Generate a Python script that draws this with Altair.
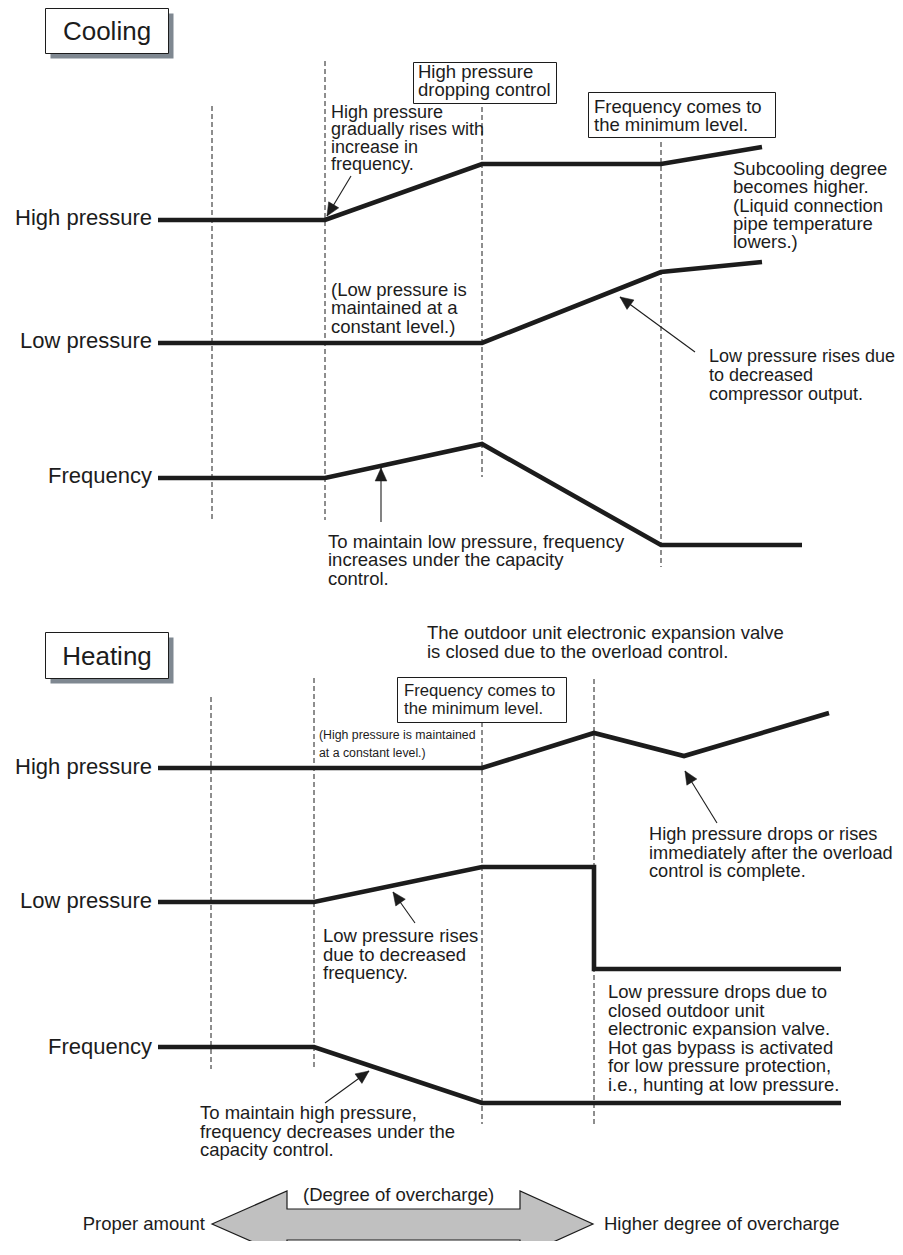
import math
import altair as alt
import pandas as pd

# ---------------- canvas: data units are page pixels ----------------
MARGIN = 8
W, H = 887, 1233
INK = "#1c1c1c"
SHADOW = "#7f8891"
BODY = "Liberation Sans, Arial, Helvetica, sans-serif"

# ---------------- thick state curves ----------------
cool_hp_x = [158, 325, 482, 661, 762]
cool_hp_y = [220, 220, 164, 164, 147]
cool_lp_x = [158, 482, 661, 762]
cool_lp_y = [343, 343, 272, 262]
cool_fr_x = [158, 325, 482, 661, 802]
cool_fr_y = [478, 478, 444, 545, 545]
heat_hp_x = [158, 482, 594, 684, 829]
heat_hp_y = [768, 768, 733, 756, 713]
heat_lp_x = [158, 314, 482, 594, 594, 841]
heat_lp_y = [902, 902, 867, 867, 969, 969]
heat_fr_x = [158, 314, 482, 841]
heat_fr_y = [1047, 1047, 1103, 1103]

# ---------------- row labels ----------------
row_labels = ["High pressure", "Low pressure", "Frequency"]
cool_label_y = [218, 341, 476]
heat_label_y = [767, 901, 1047]
label_right_x = 152

# ---------------- dashed phase lines ----------------
cool_dash_x = [212, 325, 482, 661]
cool_dash_top = [106, 61, 107, 142]
cool_dash_bot = [520, 520, 477, 567]
heat_dash_x = [211, 314, 482, 594]
heat_dash_top = [697, 678, 722, 679]
heat_dash_bot = [1069, 1069, 1124, 1127]

# ---------------- boxes ----------------
title_texts = ["Cooling", "Heating"]
title_box_x = [45.5, 168.5]
title_box_y = [[8.5, 53.5], [632.5, 678.5]]
shadow_offset = 5
note_box_x1 = [413.5, 588.5, 397.5]
note_box_x2 = [556.5, 775.5, 566.5]
note_box_y1 = [62.5, 92.5, 677.5]
note_box_y2 = [103.5, 137.5, 722.5]

# ---------------- annotation text blocks ----------------
notes = [
    # (x, first line y, line step, lines, align, size)
    (418, 72, 18.3, ["High pressure", "dropping control"], "left", 18.5),
    (331, 113, 17.4, ["High pressure", "gradually rises with", "increase in", "frequency."], "left", 18),
    (594, 107, 18.0, ["Frequency comes to", "the minimum level."], "left", 18.5),
    (733, 169, 18.3, ["Subcooling degree", "becomes higher.", "(Liquid connection",
                      "pipe temperature", "lowers.)"], "left", 18.5),
    (331, 290, 18.4, ["(Low pressure is", "maintained at a", "constant level.)"], "left", 18.5),
    (709, 357, 19.2, ["Low pressure rises due", "to decreased", "compressor output."], "left", 18),
    (328, 542, 18.3, ["To maintain low pressure, frequency", "increases under the capacity",
                      "control."], "left", 18.5),
    (427, 633, 19.0, ["The outdoor unit electronic expansion valve",
                      "is closed due to the overload control."], "left", 18.5),
    (404, 691, 17.6, ["Frequency comes to", "the minimum level."], "left", 16.7),
    (319, 735, 18.0, ["(High pressure is maintained", "at a constant level.)"], "left", 12.3),
    (323, 936, 18.7, ["Low pressure rises", "due to decreased", "frequency."], "left", 18.5),
    (649, 835, 18.7, ["High pressure drops or rises", "immediately after the overload",
                      "control is complete."], "left", 18.2),
    (608, 992, 18.6, ["Low pressure drops due to", "closed outdoor unit",
                      "electronic expansion valve.", "Hot gas bypass is activated",
                      "for low pressure protection,", "i.e., hunting at low pressure."], "left", 18.5),
    (200, 1113, 18.5, ["To maintain high pressure,", "frequency decreases under the",
                       "capacity control."], "left", 18.5),
    (303, 1195, 0, ["(Degree of overcharge)"], "left", 18.5),
    (205, 1224, 0, ["Proper amount"], "right", 18.5),
    (604, 1224, 0, ["Higher degree of overcharge"], "left", 18.5),
]

# ---------------- pointer arrows (tail -> tip) ----------------
arrow_x0 = [351, 695, 381, 415, 717, 325]
arrow_y0 = [176, 352, 522, 923, 823, 1103]
arrow_x1 = [327, 620, 381, 393, 685, 369]
arrow_y1 = [216, 297, 468, 892, 771, 1071]

# ---------------- double-headed overcharge arrow outline ----------------
big_x = [212, 287, 287, 520, 520, 593]
big_top = [1224, 1191, 1209, 1209, 1191, 1224]
big_bot = [1224, 1257, 1240, 1240, 1257, 1224]

# =====================================================================
xs = alt.Scale(domain=[MARGIN, MARGIN + W], nice=False, zero=False)
ys = alt.Scale(domain=[MARGIN, MARGIN + H], nice=False, zero=False, reverse=True)


def X(f="x"):
    return alt.X(f"{f}:Q", scale=xs, axis=None)


def Y(f="y"):
    return alt.Y(f"{f}:Q", scale=ys, axis=None, stack=None)


rows = []
for name, xv, yv in [("cool_hp", cool_hp_x, cool_hp_y), ("cool_lp", cool_lp_x, cool_lp_y),
                     ("cool_fr", cool_fr_x, cool_fr_y), ("heat_hp", heat_hp_x, heat_hp_y),
                     ("heat_lp", heat_lp_x, heat_lp_y), ("heat_fr", heat_fr_x, heat_fr_y)]:
    for i, (a, b) in enumerate(zip(xv, yv)):
        rows.append(dict(series=name, idx=i, x=a, y=b))
curves = pd.DataFrame(rows)

dash = pd.DataFrame(dict(x=cool_dash_x + heat_dash_x,
                         top=cool_dash_top + heat_dash_top,
                         bot=cool_dash_bot + heat_dash_bot))

title_df = pd.DataFrame(dict(
    x=[title_box_x[0]] * 2, x2=[title_box_x[1]] * 2,
    y=[b[0] for b in title_box_y], y2=[b[1] for b in title_box_y],
    text=title_texts))
title_df["sx"] = title_df.x + shadow_offset
title_df["sx2"] = title_df.x2 + shadow_offset
title_df["sy"] = title_df.y + shadow_offset
title_df["sy2"] = title_df.y2 + shadow_offset
title_df["cx"] = (title_df.x + title_df.x2) / 2
title_df["cy"] = (title_df.y + title_df.y2) / 2 + 1

note_boxes = pd.DataFrame(dict(x=note_box_x1, x2=note_box_x2, y=note_box_y1, y2=note_box_y2))

text_rows = []
for lab, yy in zip(row_labels, cool_label_y):
    text_rows.append(dict(x=label_right_x, y=yy, text=lab, align="right", size=22))
for lab, yy in zip(row_labels, heat_label_y):
    text_rows.append(dict(x=label_right_x, y=yy, text=lab, align="right", size=22))
for (x0, y0, step, lines, align, size) in notes:
    for i, t in enumerate(lines):
        text_rows.append(dict(x=x0, y=y0 + i * step, text=t, align=align, size=size))
texts = pd.DataFrame(text_rows)

arrows = pd.DataFrame(dict(x0=arrow_x0, y0=arrow_y0, x1=arrow_x1, y1=arrow_y1))
arrows["ang"] = [
    (math.degrees(math.atan2(x1 - x0, -(y1 - y0))) + 360) % 360
    for x0, y0, x1, y1 in zip(arrow_x0, arrow_y0, arrow_x1, arrow_y1)
]

big = pd.DataFrame(dict(x=big_x, y=big_top, y2=big_bot))

# ---------------- layers ----------------
layers = []

layers.append(alt.Chart(dash).mark_rule(strokeDash=[5, 3], strokeWidth=1, color=INK).encode(
    x=X(), y=Y("top"), y2=alt.Y2("bot:Q")))

layers.append(alt.Chart(curves).mark_line(strokeWidth=4.6, color=INK, strokeJoin="miter",
                                          strokeCap="butt").encode(
    x=X(), y=Y(), detail="series:N", order="idx:Q"))

layers.append(alt.Chart(title_df).mark_rect(fill=SHADOW).encode(
    x=X("sx"), x2=alt.X2("sx2:Q"), y=Y("sy"), y2=alt.Y2("sy2:Q")))
layers.append(alt.Chart(title_df).mark_rect(fill="white", stroke=INK, strokeWidth=1).encode(
    x=X(), x2=alt.X2("x2:Q"), y=Y(), y2=alt.Y2("y2:Q")))
layers.append(alt.Chart(title_df).mark_text(font=BODY, fontSize=26, align="center",
                                            baseline="middle", color=INK).encode(
    x=X("cx"), y=Y("cy"), text="text:N"))

layers.append(alt.Chart(note_boxes).mark_rect(fill="white", stroke=INK, strokeWidth=1).encode(
    x=X(), x2=alt.X2("x2:Q"), y=Y(), y2=alt.Y2("y2:Q")))

for align, grp in texts.groupby("align"):
    layers.append(alt.Chart(grp.reset_index(drop=True)).mark_text(
        font=BODY, align=align, baseline="middle", color=INK).encode(
        x=X(), y=Y(), text="text:N", size=alt.Size("size:Q", scale=None, legend=None)))

layers.append(alt.Chart(arrows).mark_rule(strokeWidth=1.1, color=INK).encode(
    x=X("x0"), y=Y("y0"), x2=alt.X2("x1:Q"), y2=alt.Y2("y1:Q")))
layers.append(alt.Chart(arrows).mark_point(
    shape="M0,0L0.9,2L-0.9,2Z", filled=True, size=169, opacity=1,
    fill=INK, stroke=INK, strokeWidth=0.5).encode(
    x=X("x1"), y=Y("y1"), angle=alt.Angle("ang:Q", scale=None)))

layers.append(alt.Chart(big).mark_area(fill="#c0c0c0", stroke=INK, strokeWidth=1.2,
                                       opacity=1, strokeJoin="miter").encode(
    x=X(), y=Y(), y2=alt.Y2("y2:Q")))

chart = alt.layer(*layers).properties(
    width=W, height=H,
    autosize=alt.AutoSizeParams(type="none"),
    padding=0,
    background="white",
).configure_view(stroke=None)

chart.save("out.html", embed_options={"renderer": "svg", "actions": False})
